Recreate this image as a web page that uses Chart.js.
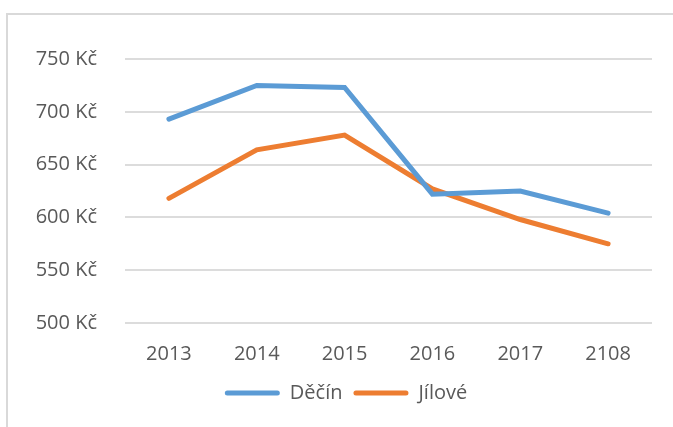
<!DOCTYPE html>
<html>
<head>
<meta charset="utf-8">
<script src="https://cdn.jsdelivr.net/npm/chart.js@4"></script>
<style>
  html, body { margin: 0; padding: 0; background: #fff; overflow: hidden; }
  #frame { position: absolute; left: 6px; top: 13px; width: 800px; height: 600px; border: 2px solid #d9d9d9; }
  #chart { position: absolute; left: 0; top: 0; }
</style>
</head>
<body>
<div id="frame"></div>
<canvas id="chart" width="673" height="427"></canvas>
<script>
// data
const years = ["2013", "2014", "2015", "2016", "2017", "2108"];
const decin = [693, 725, 723, 622, 625, 604];
const jilove = [618, 664, 678, 627, 598, 575];
const yTicks = [500, 550, 600, 650, 700, 750];

const textColor = "#595959";
const font = { family: "'Open Sans', sans-serif", size: 20 };

// legend in the original sits a bit right of the canvas centre
const shiftLegend = {
    id: "shiftLegend",
    afterLayout(chart) {
        chart.legend.left += 20;
        chart.legend.right += 20;
    }
};

new Chart(document.getElementById("chart"), {
    type: "line",
    data: {
        labels: years,
        datasets: [{
            label: "Děčín",
            data: decin,
            borderColor: "#5b9bd5",
            backgroundColor: "#5b9bd5",
            borderWidth: 5,
            borderCapStyle: "round",
            pointRadius: 0,
            tension: 0
        }, {
            label: "Jílové",
            data: jilove,
            borderColor: "#ed7d31",
            backgroundColor: "#ed7d31",
            borderWidth: 5,
            borderCapStyle: "round",
            pointRadius: 0,
            tension: 0
        }]
    },
    options: {
        responsive: false,
        animation: false,
        layout: { padding: { left: 0, top: 59, right: 21, bottom: 14 } },
        plugins: {
            legend: {
                position: "bottom",
                labels: {
                    color: textColor,
                    font: font,
                    boxWidth: 55,
                    boxHeight: 5,
                    useBorderRadius: true,
                    borderRadius: 2.5,
                    padding: 11,
                    generateLabels(chart) {
                        const items = Chart.defaults.plugins.legend.labels.generateLabels(chart);
                        items.forEach(it => { it.lineWidth = 0; });
                        return items;
                    }
                }
            },
            tooltip: { enabled: false }
        },
        scales: {
            x: {
                offset: true,
                grid: { display: false, drawTicks: false },
                border: { display: false },
                ticks: { color: textColor, font: font, padding: 19, maxRotation: 0 },
                afterFit(scale) { scale.height = 49; }
            },
            y: {
                min: yTicks[0],
                max: yTicks[yTicks.length - 1],
                grid: { color: "#dcdcdc", lineWidth: 2, drawTicks: false },
                border: { display: false },
                afterBuildTicks(scale) { scale.ticks = yTicks.map(v => ({ value: v })); },
                ticks: {
                    color: textColor,
                    font: font,
                    padding: 28,
                    callback: (v) => v + " Kč"
                },
                afterFit(scale) { scale.width = 125; }
            }
        }
    },
    plugins: [shiftLegend]
});
</script>
</body>
</html>
